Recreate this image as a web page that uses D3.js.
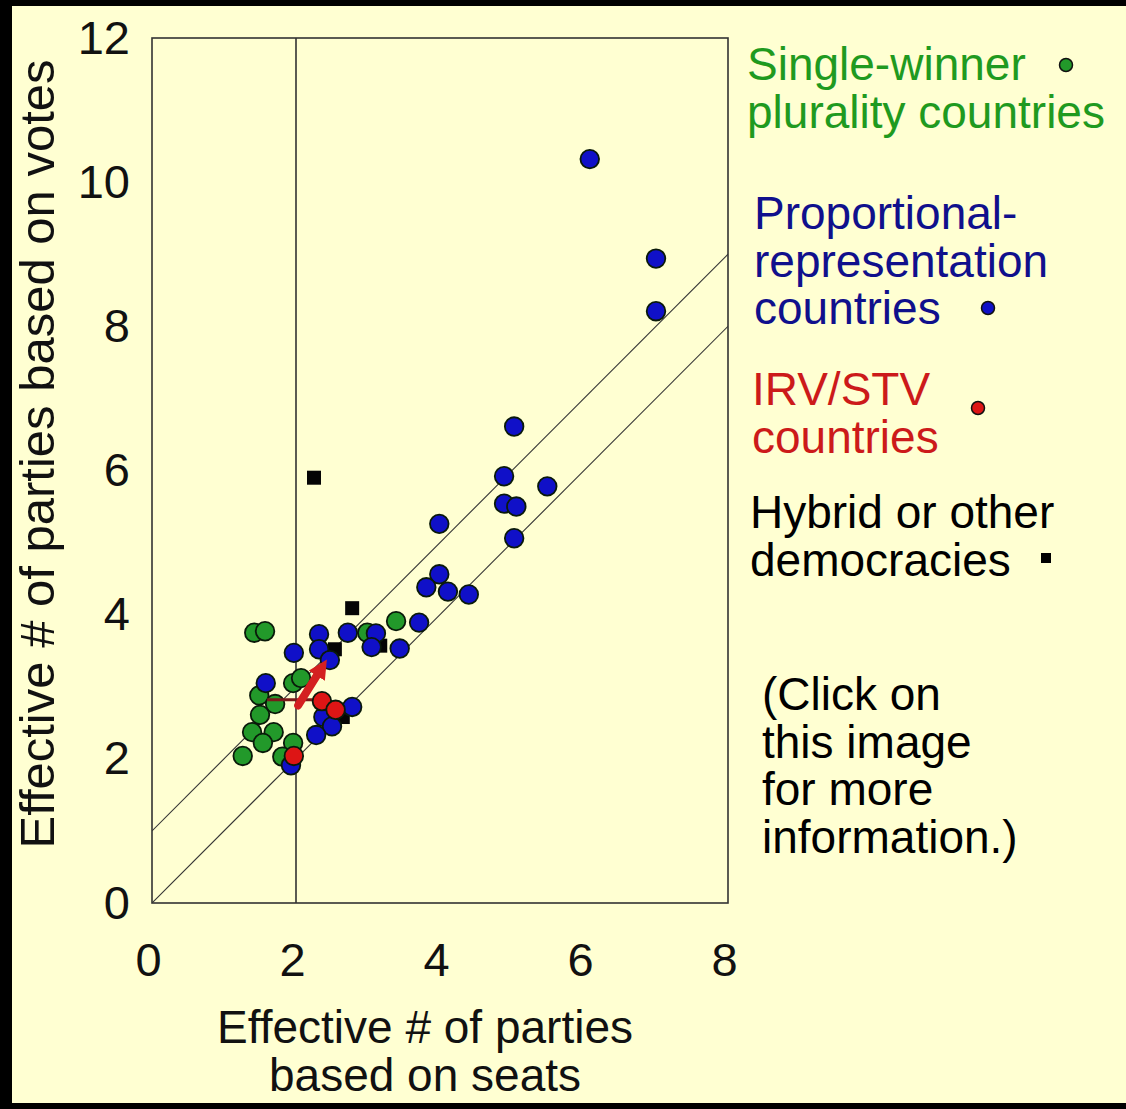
<!DOCTYPE html>
<html>
<head>
<meta charset="utf-8">
<script src="https://cdn.jsdelivr.net/npm/d3@7"></script>
<style>
  body { margin: 0; background: #000; }
  svg { display: block; font-family: "Liberation Sans", Arial, sans-serif; }
</style>
</head>
<body>
<svg id="chart" width="1126" height="1109"></svg>
<script>
// Data (seats, votes)
const plurality = [
  [1.42, 3.75], [1.57, 3.77], [2.99, 3.75], [3.39, 3.91], [1.96, 3.05], [2.07, 3.12],
  [1.49, 2.88], [1.71, 2.76], [1.50, 2.61], [1.39, 2.37], [1.69, 2.37], [1.54, 2.22],
  [1.26, 2.04], [1.96, 2.22], [1.81, 2.03]
];
const proportional = [
  [6.08, 10.32], [7.0, 8.94], [7.0, 8.21], [5.03, 6.61], [4.89, 5.92], [5.49, 5.78],
  [4.89, 5.54], [5.06, 5.50], [5.03, 5.06], [3.99, 5.26], [3.99, 4.56], [3.81, 4.38],
  [4.11, 4.32], [4.40, 4.28], [3.71, 3.89], [3.44, 3.53], [3.11, 3.74], [3.05, 3.55],
  [2.72, 3.75], [2.32, 3.73], [2.32, 3.52], [2.47, 3.37], [1.97, 3.47], [1.58, 3.05],
  [2.78, 2.72], [2.38, 2.58], [2.50, 2.45], [2.28, 2.33], [1.93, 1.91]
];
const irvStv = [[2.36, 2.80], [2.55, 2.68], [1.97, 2.04]];
const hybrid = [[2.25, 5.90], [2.78, 4.09], [3.17, 3.57], [2.54, 3.52], [2.65, 2.58]];

// reference lines: votes = seats, votes = seats + 1, and seats = 2
const diagonals = [[[0, 0], [8, 8]], [[0, 1], [8, 9]]];
const verticalAt = 2;
// movement marks in the cluster
const arrowLine = [[2.03, 2.74], [2.33, 3.22]];
const flatLine = [[1.60, 2.82], [2.36, 2.82]];

const xTicks = [0, 2, 4, 6, 8];
const yTicks = [0, 2, 4, 6, 8, 10, 12];
const xLabel = ["Effective # of parties", "based on seats"];
const yLabel = "Effective # of parties based on votes";

const legendGroups = [
  { lines: ["Single-winner", "plurality countries"], color: "#1f9a1f" },
  { lines: ["Proportional-", "representation", "countries"], color: "#10108c" },
  { lines: ["IRV/STV", "countries"], color: "#cc1a1a" },
  { lines: ["Hybrid or other", "democracies"], color: "#000" },
  { lines: ["(Click on", "this image", "for more", "information.)"], color: "#000" }
];

const svg = d3.select("#chart");
svg.append("rect").attr("width", 1126).attr("height", 1109).attr("fill", "#000");
svg.append("rect").attr("x", 12).attr("y", 6).attr("width", 1114).attr("height", 1097).attr("fill", "#ffffd2");

const x = d3.scaleLinear().domain([0, 8]).range([152, 728]);
const y = d3.scaleLinear().domain([0, 12]).range([903, 38]);

const plot = svg.append("g");
plot.append("clipPath").attr("id", "clip")
  .append("rect").attr("x", x(0)).attr("y", y(12)).attr("width", x(8) - x(0)).attr("height", y(0) - y(12));

// frame
plot.append("rect")
  .attr("x", x(0)).attr("y", y(12))
  .attr("width", x(8) - x(0)).attr("height", y(0) - y(12))
  .attr("fill", "none").attr("stroke", "#333").attr("stroke-width", 1.6);

plot.append("line")
  .attr("x1", x(verticalAt)).attr("x2", x(verticalAt))
  .attr("y1", y(0)).attr("y2", y(12))
  .attr("stroke", "#333").attr("stroke-width", 1.6);

const line = d3.line().x(d => x(d[0])).y(d => y(d[1]));
plot.selectAll(".diag").data(diagonals).join("path")
  .attr("class", "diag")
  .attr("d", line)
  .attr("clip-path", "url(#clip)")
  .attr("fill", "none").attr("stroke", "#333").attr("stroke-width", 1.1);

// axes (labels only)
const fontSize = 47;
const xAxis = svg.append("g").attr("transform", `translate(-4,${y(0)})`)
  .call(d3.axisBottom(x).tickValues(xTicks).tickSize(0).tickPadding(40));
const yAxis = svg.append("g").attr("transform", `translate(${x(0)},0)`)
  .call(d3.axisLeft(y).tickValues(yTicks).tickSize(0).tickPadding(22));
[xAxis, yAxis].forEach(a => {
  a.select(".domain").remove();
  a.selectAll("text").attr("font-size", fontSize).attr("fill", "#111")
    .attr("font-family", "'Liberation Sans', Arial, sans-serif");
});

svg.append("text")
  .attr("text-anchor", "middle")
  .attr("font-size", 46).attr("fill", "#111")
  .selectAll("tspan").data(xLabel).join("tspan")
  .attr("x", 425).attr("y", (d, i) => 1043 + i * 48)
  .text(d => d);

svg.append("text")
  .attr("transform", "translate(54,454) rotate(-90)")
  .attr("text-anchor", "middle")
  .attr("font-size", 49).attr("fill", "#111")
  .text(yLabel);

// points
function dots(data, fill) {
  plot.append("g").selectAll("circle").data(data).join("circle")
    .attr("cx", d => x(d[0])).attr("cy", d => y(d[1])).attr("r", 9.3)
    .attr("fill", fill).attr("stroke", "#0a1a0a").attr("stroke-width", 1.8);
}
dots(plurality, "#22992a");
plot.append("g").selectAll("rect").data(hybrid).join("rect")
  .attr("x", d => x(d[0]) - 7).attr("y", d => y(d[1]) - 7)
  .attr("width", 14).attr("height", 14).attr("fill", "#050505");
dots(proportional, "#1010c8");

plot.append("path").datum(flatLine).attr("d", line)
  .attr("stroke", "#7a1a1a").attr("stroke-width", 3).attr("fill", "none");
dots(irvStv, "#dd1515");
svg.append("defs").append("marker")
  .attr("id", "head").attr("viewBox", "0 0 10 10").attr("refX", 3).attr("refY", 5)
  .attr("markerWidth", 2.4).attr("markerHeight", 2.4).attr("orient", "auto")
  .append("path").attr("d", "M0,0L10,5L0,10Z").attr("fill", "#d42020");
plot.append("path").datum(arrowLine).attr("d", line)
  .attr("stroke", "#d42020").attr("stroke-width", 8).attr("fill", "none")
  .attr("stroke-linecap", "round")
  .attr("marker-end", "url(#head)");

// legend
const legendPos = [
  { x: 747, y: 80 }, { x: 754, y: 229 }, { x: 752, y: 405 }, { x: 750, y: 528 }, { x: 762, y: 710 }
];
legendGroups.forEach((g, i) => {
  svg.append("text")
    .attr("font-size", 46).attr("fill", g.color)
    .selectAll("tspan").data(g.lines).join("tspan")
    .attr("x", legendPos[i].x).attr("y", (d, j) => legendPos[i].y + j * 47.5)
    .text(d => d);
});
const legendMarks = [
  { cx: 1066, cy: 65, fill: "#22992a" },
  { cx: 988, cy: 308, fill: "#1010c8" },
  { cx: 978, cy: 408, fill: "#dd1515" }
];
svg.selectAll(".lm").data(legendMarks).join("circle")
  .attr("class", "lm")
  .attr("cx", d => d.cx).attr("cy", d => d.cy).attr("r", 6.5)
  .attr("fill", d => d.fill).attr("stroke", "#111").attr("stroke-width", 1.5);
svg.append("rect").attr("x", 1041).attr("y", 553).attr("width", 10).attr("height", 10).attr("fill", "#000");
</script>
</body>
</html>
